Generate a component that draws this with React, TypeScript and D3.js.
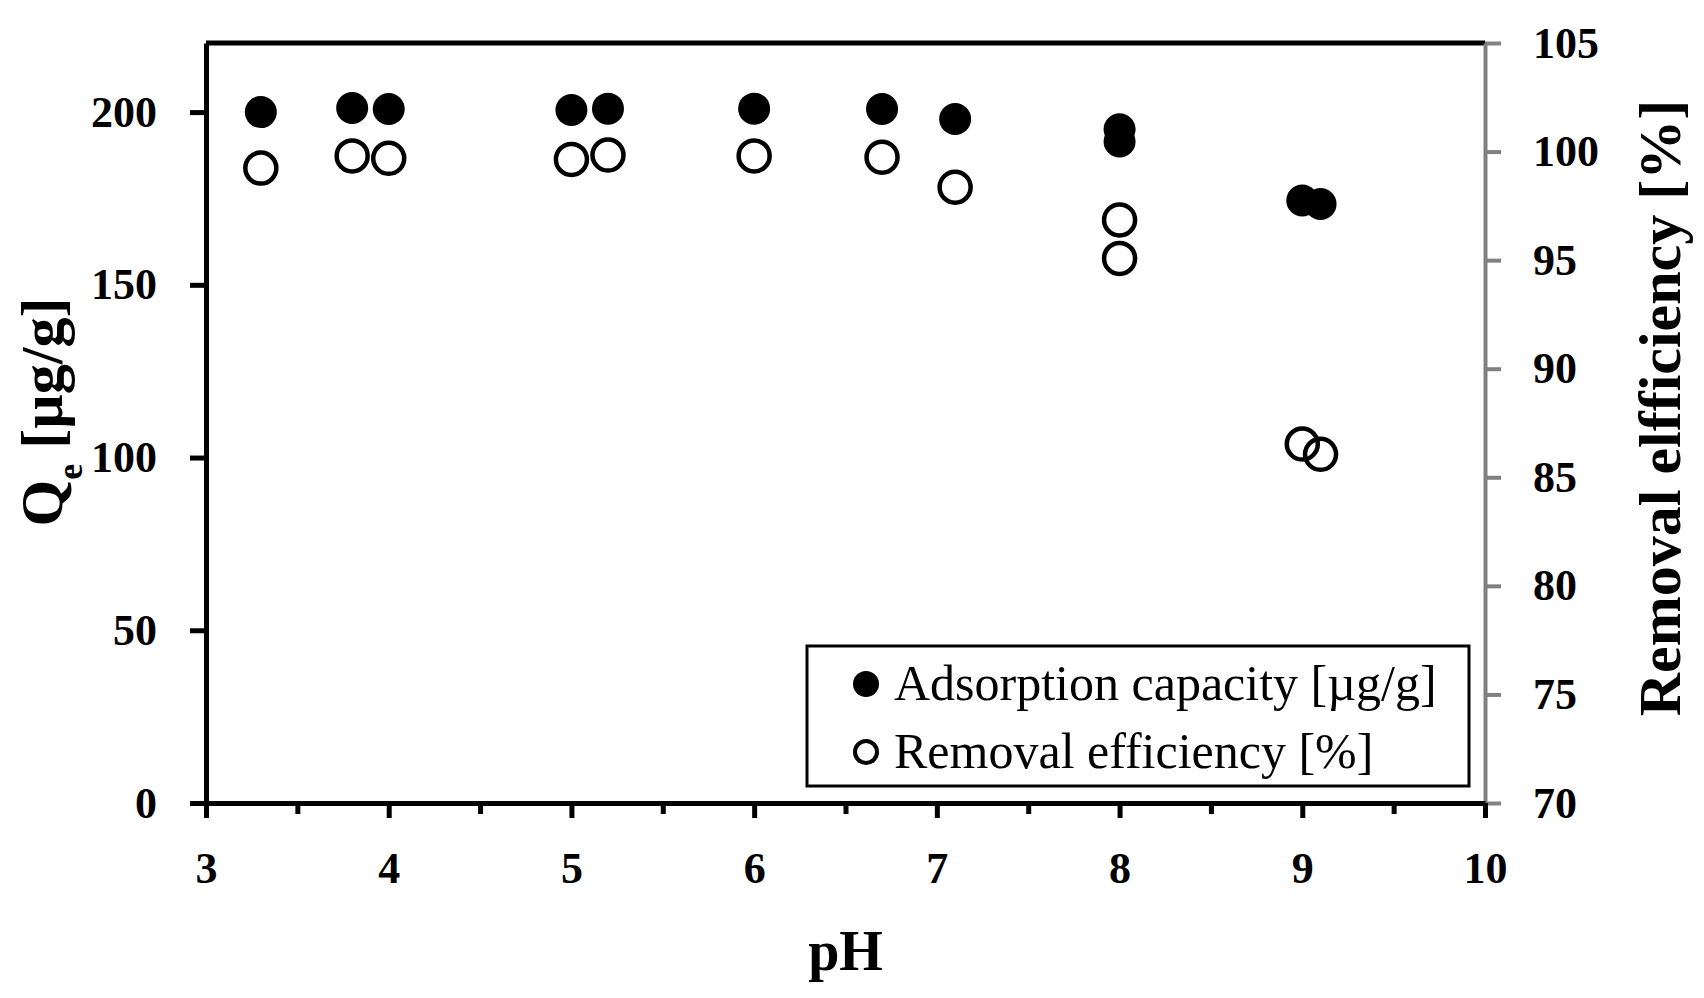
import React, { useEffect, useRef } from 'react';
import * as d3 from 'd3';

// pH of each measurement
const phValues = [3.3, 3.8, 4.0, 5.0, 5.2, 6.0, 6.7, 7.1, 8.0, 8.0, 9.0, 9.1];
// Adsorption capacity Qe [µg/g] (left axis)
const capacity = [200.0, 201.2, 200.9, 200.6, 201.0, 201.0, 200.9, 198.0, 195.0, 191.5, 174.4, 173.4];
// Removal efficiency [%] (right axis)
const efficiency = [99.24, 99.8, 99.69, 99.64, 99.84, 99.8, 99.74, 98.36, 96.85, 95.08, 86.53, 86.06];

const xTicks = [3, 4, 5, 6, 7, 8, 9, 10];
const xMinorTicks = [3.5, 4.5, 5.5, 6.5, 7.5, 8.5, 9.5];
const leftTicks = [0, 50, 100, 150, 200];
const rightTicks = [70, 75, 80, 85, 90, 95, 100, 105];

const legendLabels = ['Adsorption capacity [µg/g]', 'Removal efficiency [%]'];

const FONT = '"Liberation Serif", "Times New Roman", serif';

const App = () => {
  const svgRef = useRef(null);

  useEffect(() => {
    const width = 1704;
    const height = 998;
    const margin = { top: 43, right: 219, bottom: 195, left: 206 };
    const x0 = margin.left;
    const x1 = width - margin.right;
    const y0 = height - margin.bottom;
    const y1 = margin.top;

    d3.select(svgRef.current).selectAll('*').remove();

    const svg = d3.select(svgRef.current)
      .attr('width', width)
      .attr('height', height)
      .style('font-family', FONT);

    svg.append('rect').attr('width', width).attr('height', height).attr('fill', '#fff');

    const xScale = d3.scaleLinear().domain([3, 10]).range([x0, x1]);
    const yLeft = d3.scaleLinear().domain([0, 220]).range([y0, y1]);
    const yRight = d3.scaleLinear().domain([70, 105]).range([y0, y1]);

    // top border
    svg.append('line')
      .attr('x1', x0).attr('x2', x1)
      .attr('y1', y1).attr('y2', y1)
      .attr('stroke', '#000').attr('stroke-width', 5);

    // right axis (grey)
    const rAxis = svg.append('g')
      .attr('transform', `translate(${x1},0)`)
      .call(d3.axisRight(yRight).tickValues(rightTicks).tickSize(16).tickSizeOuter(0).tickPadding(32));
    rAxis.select('.domain').attr('stroke', '#808080').attr('stroke-width', 4);
    rAxis.selectAll('.tick line').attr('stroke', '#808080').attr('stroke-width', 4);
    rAxis.selectAll('text')
      .attr('fill', '#000')
      .style('font-size', '44px')
      .style('font-weight', 'bold')
      .style('font-family', FONT);

    // left axis
    const lAxis = svg.append('g')
      .attr('transform', `translate(${x0},0)`)
      .call(d3.axisLeft(yLeft).tickValues(leftTicks).tickSize(16).tickSizeOuter(0).tickPadding(33));
    lAxis.select('.domain').attr('stroke', '#000').attr('stroke-width', 5);
    lAxis.selectAll('.tick line').attr('stroke', '#000').attr('stroke-width', 5);
    lAxis.selectAll('text')
      .style('font-size', '44px')
      .style('font-weight', 'bold')
      .style('font-family', FONT);

    // bottom axis: minor then major
    const minorAxis = svg.append('g')
      .attr('transform', `translate(0,${y0})`)
      .call(d3.axisBottom(xScale).tickValues(xMinorTicks).tickSize(11).tickSizeOuter(0).tickFormat(() => ''));
    minorAxis.select('.domain').remove();
    minorAxis.selectAll('.tick line').attr('stroke', '#000').attr('stroke-width', 5);

    const bAxis = svg.append('g')
      .attr('transform', `translate(0,${y0})`)
      .call(d3.axisBottom(xScale).tickValues(xTicks).tickSize(15).tickSizeOuter(0).tickPadding(34)
        .tickFormat(d3.format('d')));
    bAxis.select('.domain').attr('stroke', '#000').attr('stroke-width', 5);
    bAxis.selectAll('.tick line').attr('stroke', '#000').attr('stroke-width', 5);
    bAxis.selectAll('text')
      .style('font-size', '44px')
      .style('font-weight', 'bold')
      .style('font-family', FONT);

    // points
    const pts = phValues.map((ph, i) => ({ ph, cap: capacity[i], eff: efficiency[i] }));

    svg.append('g').selectAll('circle')
      .data(pts)
      .join('circle')
      .attr('cx', d => xScale(d.ph))
      .attr('cy', d => yLeft(d.cap))
      .attr('r', 16)
      .attr('fill', '#000');

    svg.append('g').selectAll('circle')
      .data(pts)
      .join('circle')
      .attr('cx', d => xScale(d.ph))
      .attr('cy', d => yRight(d.eff))
      .attr('r', 15.5)
      .attr('fill', 'none')
      .attr('stroke', '#000')
      .attr('stroke-width', 4.5);

    // axis titles
    svg.append('text')
      .attr('x', (x0 + x1) / 2)
      .attr('y', 970)
      .attr('text-anchor', 'middle')
      .style('font-size', '56px')
      .style('font-weight', 'bold')
      .text('pH');

    const lt = svg.append('text')
      .attr('transform', `translate(62,412) rotate(-90)`)
      .attr('text-anchor', 'middle')
      .style('font-size', '60px')
      .style('font-weight', 'bold');
    lt.append('tspan').text('Q');
    lt.append('tspan').attr('baseline-shift', 'sub').style('font-size', '36px').text('e');
    lt.append('tspan').text(' [µg/g]');

    svg.append('text')
      .attr('transform', `translate(1680,408) rotate(-90)`)
      .attr('text-anchor', 'middle')
      .style('font-size', '60px')
      .style('font-weight', 'bold')
      .text('Removal elfficiency [%]');

    // legend
    const legend = svg.append('g');
    legend.append('rect')
      .attr('x', 807).attr('y', 646)
      .attr('width', 662).attr('height', 140)
      .attr('fill', '#fff')
      .attr('stroke', '#000')
      .attr('stroke-width', 3);

    legendLabels.forEach((label, i) => {
      const cy = 684 + i * 68;
      if (i === 0) {
        legend.append('circle').attr('cx', 866).attr('cy', cy).attr('r', 13).attr('fill', '#000');
      } else {
        legend.append('circle').attr('cx', 866).attr('cy', cy).attr('r', 11)
          .attr('fill', 'none').attr('stroke', '#000').attr('stroke-width', 4);
      }
      legend.append('text')
        .attr('x', 894)
        .attr('y', cy + 16)
        .style('font-size', '50px')
        .text(label);
    });
  }, []);

  return (
    <svg ref={svgRef} style={{ position: 'absolute', left: 0, top: 0 }}></svg>
  );
};

export default App;
